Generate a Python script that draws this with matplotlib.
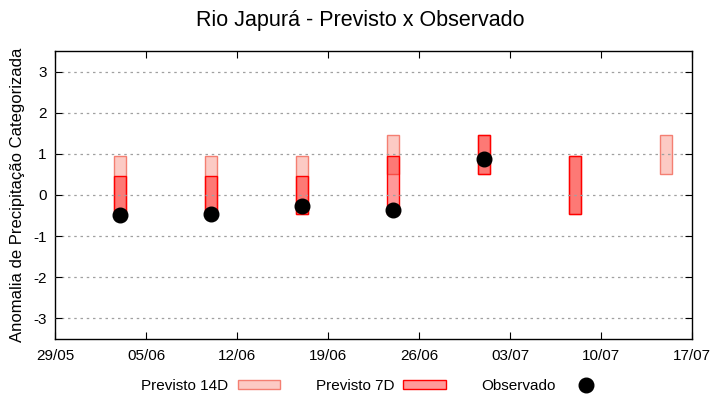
import numpy as np
import pandas as pd
import matplotlib
matplotlib.use("Agg")
import matplotlib.pyplot as plt
import matplotlib.dates as mdates
from matplotlib.patches import Patch
from matplotlib.lines import Line2D

plt.rcParams['font.family'] = ['Liberation Sans', 'DejaVu Sans']
plt.rcParams['axes.unicode_minus'] = False

# --------------------------------------------
# dados
# --------------------------------------------
datas = pd.to_datetime(['2024-06-03', '2024-06-10', '2024-06-17', '2024-06-24',
                        '2024-07-01', '2024-07-08', '2024-07-15'])

# previsto 14 dias (limite inferior / superior)
p14_min = [-0.45, -0.45, -0.45, 0.5, 0.5, -0.45, 0.5]
p14_max = [0.95, 0.95, 0.95, 1.45, 1.45, 0.95, 1.45]

# previsto 7 dias
p7_min = [-0.45, -0.45, -0.45, -0.45, 0.5, -0.45, np.nan]
p7_max = [0.45, 0.45, 0.45, 0.95, 1.45, 0.95, np.nan]

# observado
obs = [-0.49, -0.46, -0.27, -0.37, 0.88, np.nan, np.nan]

ticks_x = pd.date_range('2024-05-29', '2024-07-17', freq='7D')
ticks_y = [-3, -2, -1, 0, 1, 2, 3]

# --------------------------------------------
# gráfico
# --------------------------------------------
fig = plt.figure(figsize=(7.2, 4.0), dpi=100)
ax = fig.add_axes([0.0764, 0.1525, 0.8847, 0.72])

p14_min = np.array(p14_min)
p14_max = np.array(p14_max)
p7_min = np.array(p7_min)
p7_max = np.array(p7_max)

ax.bar(datas, p14_max - p14_min, bottom=p14_min, width=0.95,
       color='#fccac4', edgecolor='#f47f72', linewidth=1.0, zorder=1)

ok = ~np.isnan(p7_min)
ax.bar(datas[ok], (p7_max - p7_min)[ok], bottom=p7_min[ok], width=0.95,
       facecolor=(1, 0, 0, 0.4), edgecolor='#ff0000', linewidth=1.0, zorder=1.5)

ax.plot(datas, obs, 'o', color='black', markersize=10.5, zorder=3)

ax.set_xlim(pd.Timestamp('2024-05-29'), pd.Timestamp('2024-07-17'))
ax.set_ylim(-3.5, 3.5)
ax.set_xticks(ticks_x)
ax.xaxis.set_major_formatter(mdates.DateFormatter('%d/%m'))
ax.set_yticks(ticks_y)

ax.tick_params(direction='in', top=True, right=True, length=5,
               labelsize=11, colors='black', pad=6)
ax.tick_params(axis='x', pad=7)
ax.grid(axis='y', color='#a0a0a0', linestyle=(0, (2, 3)), linewidth=0.9)
ax.set_axisbelow(False)
for s in ax.spines.values():
    s.set_linewidth(1.0)

ax.set_ylabel('Anomalia de Precipitação Categorizada', fontsize=12, labelpad=6)
fig.suptitle('Rio Japurá - Previsto x Observado', fontsize=15.5, y=0.975)

handles = [
    Patch(facecolor='#fccac4', edgecolor='#f47f72', linewidth=1.0),
    Patch(facecolor=(1, 0, 0, 0.4), edgecolor='#ff0000', linewidth=1.0),
    Line2D([], [], marker='o', color='black', linestyle='none', markersize=10.5),
]
fig.legend(handles, ['Previsto 14D', 'Previsto 7D', 'Observado'],
           loc='center', bbox_to_anchor=(0.52, 0.035), ncol=3, frameon=False,
           markerfirst=False, fontsize=11, handlelength=2.8, handleheight=0.5,
           handletextpad=0.6, columnspacing=2.3)

plt.savefig('out.png', dpi=100)
